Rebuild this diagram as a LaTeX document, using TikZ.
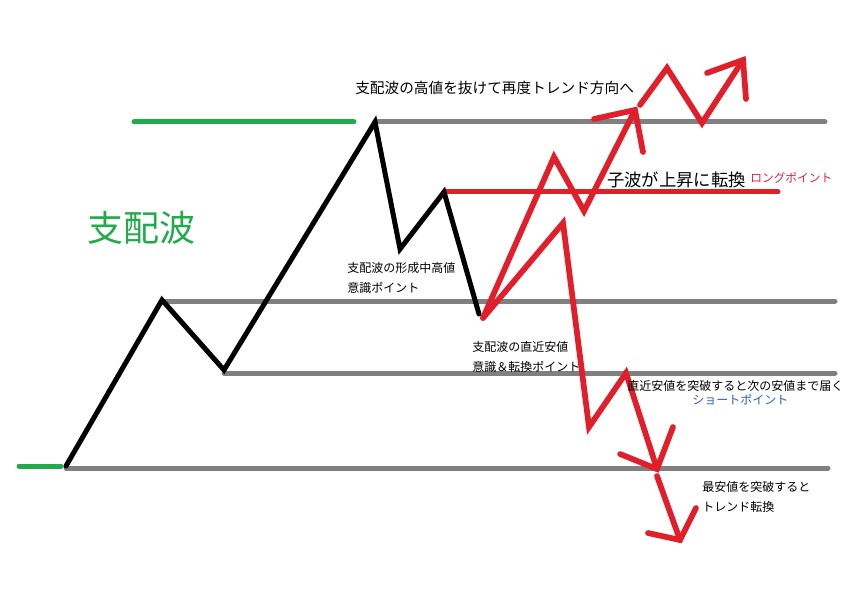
\documentclass[tikz,border=0pt]{standalone}
\usepackage{fontspec}
\newfontfamily\jp{Noto Sans CJK JP}
\definecolor{pgray}{HTML}{808080}
\definecolor{pred}{HTML}{E01F2B}
\definecolor{pgreen}{HTML}{22AA4C}
\definecolor{pblue}{HTML}{2F5FC4}
\definecolor{pcrimson}{HTML}{E0204A}
\tikzset{
  level/.style={line width=3.75pt, pgray, line cap=round},
  greenline/.style={line width=3.75pt, pgreen, line cap=round},
  redline/.style={line width=4.3pt, pred, line cap=round, line join=miter},
  blackline/.style={line width=3.75pt, black, line cap=round, line join=miter},
  lbl/.style={inner sep=0pt, anchor=west, font=\jp\fontsize{9}{10}\selectfont},
}
\begin{document}
\begin{tikzpicture}[x=0.75pt,y=-0.75pt]
\useasboundingbox[fill=white] (0,0) rectangle (842,595);
% level coordinates
\coordinate (g1a) at (375,122); \coordinate (g1b) at (825,122);
\coordinate (g2a) at (162,301); \coordinate (g2b) at (835,301);
\coordinate (g3a) at (224,373); \coordinate (g3b) at (835,373);
\coordinate (g4a) at (66,468);  \coordinate (g4b) at (828,468);
\coordinate (ra) at (444,192);  \coordinate (rb) at (778,192);
\coordinate (gr1a) at (134,122); \coordinate (gr1b) at (354,122);
\coordinate (gr2a) at (19,466);  \coordinate (gr2b) at (61,466);
\draw[level] (g1a) -- (g1b);
\draw[level] (g2a) -- (g2b);
\draw[level] (g3a) -- (g3b);
\draw[level] (g4a) -- (g4b);
\draw[greenline] (gr1a) -- (gr1b);
\draw[greenline] (gr2a) -- (gr2b);
\draw[redline, line width=3.75pt] (ra) -- (rb);
% black dominant wave
\coordinate (b0) at (66,466);
\coordinate (b1) at (162,300);
\coordinate (b2) at (224,370);
\coordinate (b3) at (375,122);
\coordinate (b4) at (400,249);
\coordinate (b5) at (444,192);
\coordinate (b6) at (479,314);
\draw[blackline] (b0) -- (b1) -- (b2) -- (b3) -- (b4) -- (b5) -- (b6);
% red up path
\coordinate (u0) at (483,318);
\coordinate (u1) at (554,157);
\coordinate (u2) at (584,211);
\coordinate (u3) at (635,110);
\coordinate (u3l) at (594,119);
\coordinate (u3r) at (643,152);
\draw[redline] (u0) -- (u1) -- (u2) -- (u3);
\draw[redline] (u3l) -- (u3) -- (u3r);
\coordinate (v0) at (640,105);
\coordinate (v1) at (667,68);
\coordinate (v2) at (702,123);
\coordinate (v3) at (743,60);
\coordinate (v3l) at (707,73);
\coordinate (v3r) at (746,99);
\draw[redline] (v0) -- (v1) -- (v2) -- (v3);
\draw[redline] (v3l) -- (v3) -- (v3r);
% red down path
\coordinate (d0) at (483,318);
\coordinate (d1) at (563,223);
\coordinate (d2) at (589,427);
\coordinate (d3) at (626,373);
\coordinate (d4) at (657,469);
\coordinate (d4l) at (620,454);
\coordinate (d4r) at (673,427);
\draw[redline] (d0) -- (d1) -- (d2) -- (d3) -- (d4);
\draw[redline] (d4l) -- (d4) -- (d4r);
\coordinate (e0) at (657,476);
\coordinate (e1) at (680,540);
\coordinate (e1l) at (648,533);
\coordinate (e1r) at (696,508);
\draw[redline] (e0) -- (e1);
\draw[redline] (e1l) -- (e1) -- (e1r);
% labels
\node[lbl, font=\jp\fontsize{11}{12}\selectfont] (t1) at (355,88) {支配波の高値を抜けて再度トレンド方向へ};
\node[lbl, font=\jp\fontsize{13}{14}\selectfont] (t2) at (607,180) {子波が上昇に転換};
\node[lbl, font=\jp\fontsize{8.8}{10}\selectfont, text=pcrimson] (t3) at (750,178) {ロングポイント};
\node[lbl, font=\jp\fontsize{27}{30}\selectfont, text=pgreen] (t4) at (87,228) {支配波};
\node[lbl] (t5) at (347,268) {支配波の形成中高値};
\node[lbl] (t6) at (347,288) {意識ポイント};
\node[lbl] (t7) at (472,347) {支配波の直近安値};
\node[lbl] (t8) at (472,367) {意識＆転換ポイント};
\node[lbl] (t9) at (627,386) {直近安値を突破すると次の安値まで届く};
\node[lbl, text=pblue] (t10) at (692,400) {ショートポイント};
\node[lbl] (t11) at (702,487) {最安値を突破すると};
\node[lbl] (t12) at (702,507) {トレンド転換};
\end{tikzpicture}
\end{document}
